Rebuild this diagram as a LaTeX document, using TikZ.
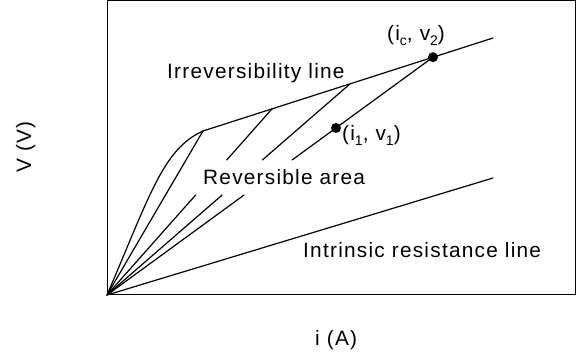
\documentclass[tikz,border=0pt]{standalone}
\usepackage{fontspec}
\newfontfamily\figfont[LetterSpace=6]{Liberation Sans}
\usetikzlibrary{calc}
\newcommand\subx[1]{\raisebox{-0.45ex}{\fontsize{14}{14}\selectfont #1}}
\begin{document}
\begin{tikzpicture}[x=1pt,y=-1pt,
  lbl/.style={font=\figfont\fontsize{20.8}{22}\selectfont, inner sep=0pt, anchor=base west},
  ln/.style={line width=1.2pt, line cap=round},
  dotm/.style={circle, fill=black, inner sep=0pt, minimum size=10pt}]
\useasboundingbox (0,0) rectangle (584,358);
% frame
\draw[line width=1pt] (107,0.5) rectangle (575,295);
% key points
\coordinate (O) at (107,295);
\coordinate (K) at (203,131);
\coordinate (P2) at (272,108.9);
\coordinate (P3) at (350,83.9);
\coordinate (E) at (493,38);
\coordinate (R) at (493,178);
\node[dotm] (C) at (433,57.2) {};
\node[dotm] (D1) at ($(O)!0.7025!(C.center)$) {};
% irreversibility line
\draw[ln] (O) .. controls (150,195) and (163,149) .. (K) -- (E);
% radial lines
\draw[ln] (O) -- (K);
\draw[ln] (O) -- ($(O)!0.537!(P2)$);
\draw[ln] ($(O)!0.7254!(P2)$) -- (P2);
\draw[ln] (O) -- ($(O)!0.4737!(P3)$);
\draw[ln] ($(O)!0.6395!(P3)$) -- (P3);
\draw[ln] (O) -- ($(O)!0.4205!(C.center)$);
\draw[ln] ($(O)!0.5677!(C.center)$) -- (C.center);
% intrinsic resistance line
\draw[ln] (O) -- (R);
% labels
\node[lbl] (tirr) at (167,79) {Irreversibility line};
\node[lbl] (trev) at (203,185) {Reversible area};
\node[lbl] (tc) at (387,41) {(i\subx{c}, v\subx{2})};
\node[lbl] (t1) at (342,141) {(i\subx{1}, v\subx{1})};
\node[lbl] (tint) at (303,258) {Intrinsic resistance line};
\node[lbl, rotate=90] (tv) at (31,173) {V (V)};
\node[lbl] (ti) at (315,345) {i (A)};
\end{tikzpicture}
\end{document}
